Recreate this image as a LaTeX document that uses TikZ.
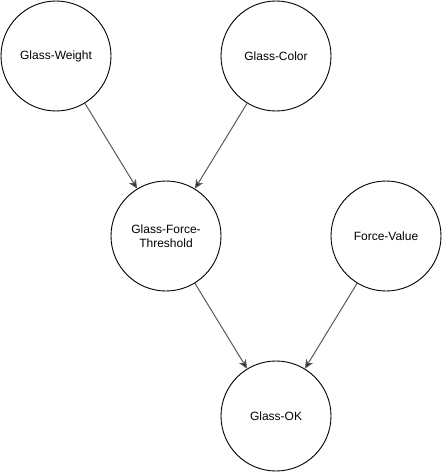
\documentclass[tikz,border=0pt]{standalone}
\usepackage{fontspec}
\setmainfont{Liberation Sans}
\usetikzlibrary{arrows.meta,positioning}

\begin{document}
\begin{tikzpicture}[x=1pt,y=-1pt,
    var/.style={draw,circle,line width=0.9pt,minimum size=110pt,inner sep=0pt,
                align=center,font=\fontsize{12}{14}\selectfont},
    arr/.style={-{Stealth[length=9pt,width=8pt,inset=2.5pt,fill=black!85]},
                line width=1pt,draw=black!65},
]
\useasboundingbox (0,0) rectangle (443,473);

% Top row
\node[var] (weight) at (56,56)  {Glass-Weight};
\node[var] (color)  at (276,56) {Glass-Color};

% Middle row
\node[var] (thresh) at (166,236) {Glass-Force-\\Threshold};
\node[var] (force)  at (386,236) {Force-Value};

% Bottom
\node[var] (ok) at (276,416) {Glass-OK};

\draw[arr] (weight) -- (thresh);
\draw[arr] (color)  -- (thresh);
\draw[arr] (thresh) -- (ok);
\draw[arr] (force)  -- (ok);

\end{tikzpicture}
\end{document}
